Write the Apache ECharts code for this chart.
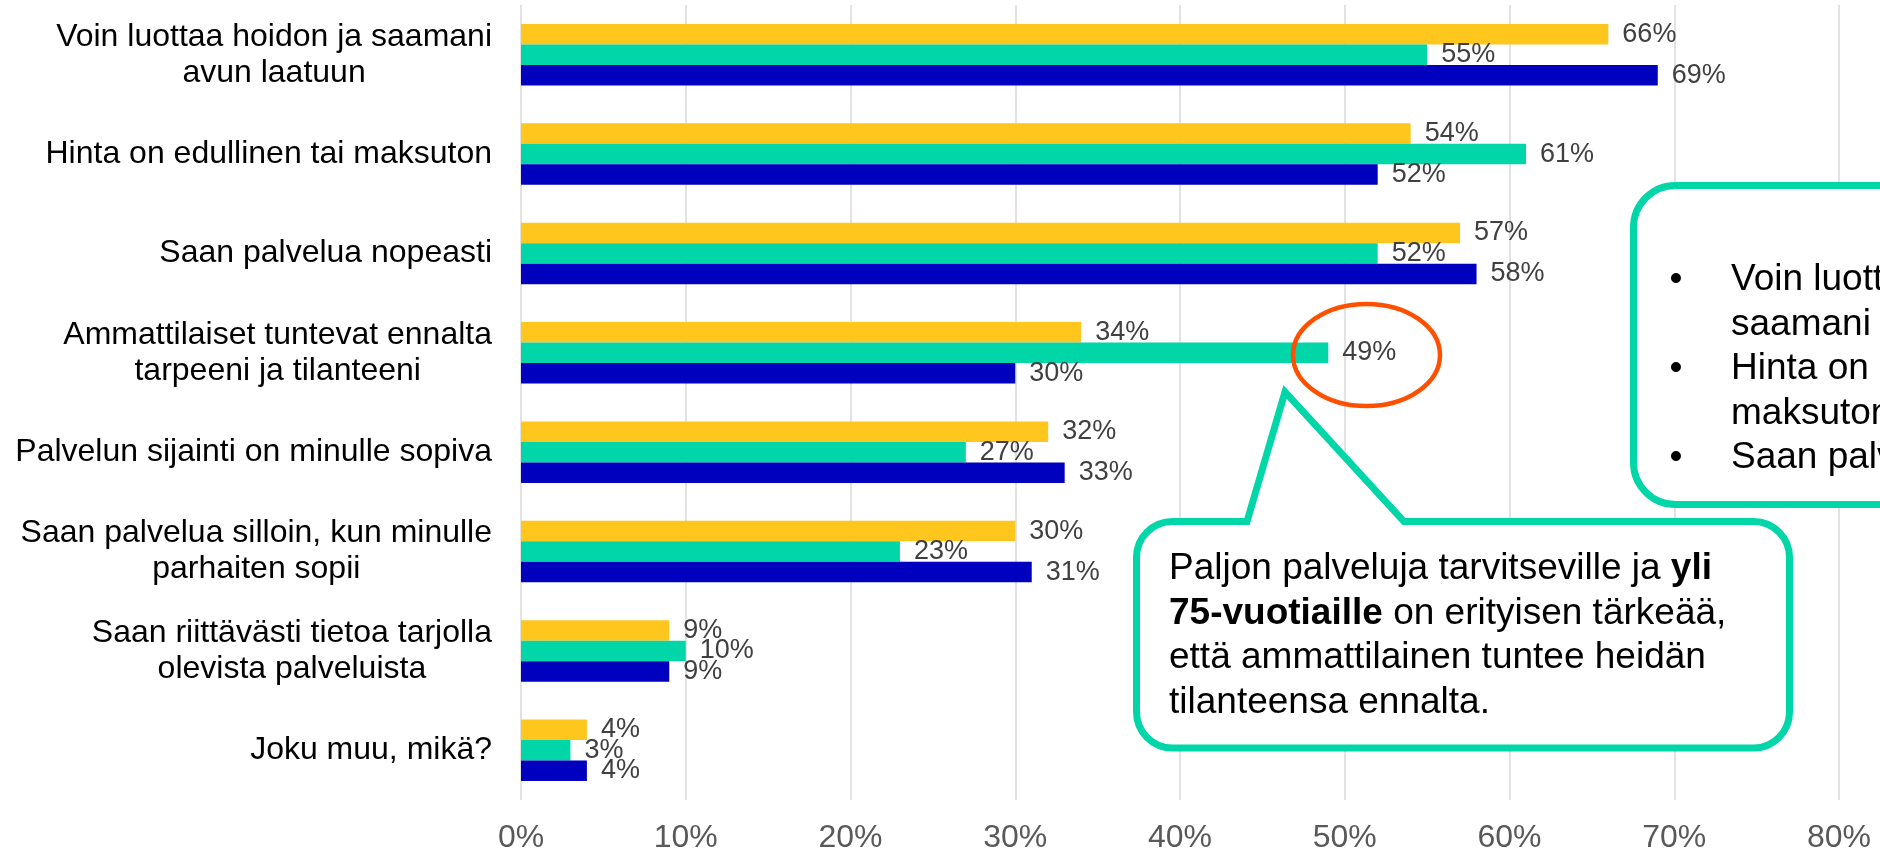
<!DOCTYPE html>
<html>
<head>
<meta charset="utf-8">
<script src="https://cdn.jsdelivr.net/npm/echarts@6/dist/echarts.min.js"></script>
<style>
  html, body { margin: 0; padding: 0; background: #fff; }
  #chart { width: 1880px; height: 850px; }
</style>
</head>
<body>
<div id="chart"></div>
<script>
const FONT = '"Liberation Sans", Arial, sans-serif'
const GREEN = '#00d6a8'

// data
const categories = [
  'Voin luottaa hoidon ja saamani\navun laatuun',
  'Hinta on edullinen tai maksuton',
  'Saan palvelua nopeasti',
  'Ammattilaiset tuntevat ennalta\ntarpeeni ja tilanteeni',
  'Palvelun sijainti on minulle sopiva',
  'Saan palvelua silloin, kun minulle\nparhaiten sopii',
  'Saan riittävästi tietoa tarjolla\nolevista palveluista',
  'Joku muu, mikä?'
]
const seriesNames = ['Ryhmä 1', 'Ryhmä 2', 'Ryhmä 3']
const yellowValues = [66, 54, 57, 34, 32, 30, 9, 4]
const greenValues = [55, 61, 52, 49, 27, 23, 10, 3]
const blueValues = [69, 52, 58, 30, 33, 31, 9, 4]
const axisMax = 80
const axisStep = 10

const seriesColors = ['#ffc61e', GREEN, '#0000bf']
const seriesValues = [yellowValues, greenValues, blueValues]

// speech-bubble outline (rounded box + pointer up to the 49% ring)
const calloutPath = 'M1172.5 521.5 L1247 521.5 L1285 392 L1404 521.5 L1753.5 521.5 ' +
  'A36 36 0 0 1 1789.5 557.5 L1789.5 712 A36 36 0 0 1 1753.5 748 ' +
  'L1172.5 748 A36 36 0 0 1 1136.5 712 L1136.5 557.5 A36 36 0 0 1 1172.5 521.5 Z'
echarts.graphic.registerShape('callout', echarts.graphic.extendPath(calloutPath, {}))

const chart = echarts.init(document.getElementById('chart'), null, { renderer: 'canvas' })

const bars = seriesValues.map((vals, i) => ({
  name: seriesNames[i],
  type: 'bar',
  data: vals,
  barWidth: 20.5,
  barGap: '0%',
  itemStyle: { color: seriesColors[i] },
  label: {
    show: true,
    position: 'right',
    distance: 14,
    formatter: '{c}%',
    color: '#404040',
    fontSize: 27,
    fontFamily: FONT
  },
  emphasis: { disabled: true },
  z: 2
}))

chart.setOption({
  animation: false,
  backgroundColor: '#fff',
  grid: {
    left: 521,
    right: 41,
    top: 5,
    bottom: 50,
    containLabel: false,
    outerBoundsMode: 'none'
  },
  xAxis: {
    type: 'value',
    min: 0,
    max: axisMax,
    interval: axisStep,
    axisLine: { show: false },
    axisTick: { show: false },
    splitLine: { show: true, lineStyle: { color: '#d9d9d9', width: 1.5 } },
    axisLabel: {
      formatter: '{value}%',
      color: '#595959',
      fontSize: 32,
      fontFamily: FONT,
      margin: 22
    }
  },
  yAxis: {
    type: 'category',
    inverse: true,
    data: categories,
    axisLine: { show: false },
    axisTick: { show: false },
    splitLine: { show: false },
    axisLabel: {
      margin: 29,
      interval: 0,
      formatter: v => v.split('\n').map(s => '{c|' + s + '}').join('\n'),
      rich: {
        c: { align: 'center', fontSize: 32, lineHeight: 36, fontFamily: FONT, color: '#000' }
      }
    }
  },
  series: bars,
  graphic: [
    // right info box (continues past the edge)
    {
      type: 'rect',
      z: 10,
      shape: { x: 1633.5, y: 185.5, width: 600, height: 319, r: 42 },
      style: { fill: '#fff', stroke: GREEN, lineWidth: 7 }
    },
    {
      type: 'text',
      z: 11,
      x: 1676,
      y: 258,
      style: {
        text: '•\n\n•\n\n•',
        font: '37px ' + FONT,
        lineHeight: 44.5,
        fill: '#000',
        align: 'center',
        verticalAlign: 'top'
      }
    },
    {
      type: 'text',
      z: 11,
      x: 1731,
      y: 258,
      style: {
        text: 'Voin luottaa hoidon ja\nsaamani avun laatuun\nHinta on edullinen tai\nmaksuton\nSaan palvelua nopeasti',
        font: '37px ' + FONT,
        lineHeight: 44.5,
        fill: '#000',
        align: 'left',
        verticalAlign: 'top'
      }
    },
    {
      type: 'callout',
      z: 10,
      style: { fill: '#fff', stroke: GREEN, lineWidth: 7, lineJoin: 'miter' }
    },
    {
      type: 'text',
      z: 11,
      x: 1169,
      y: 547,
      style: {
        text: 'Paljon palveluja tarvitseville ja {b|yli}\n{b|75-vuotiaille} on erityisen tärkeää,\nettä ammattilainen tuntee heidän\ntilanteensa ennalta.',
        fontSize: 37,
        fontFamily: FONT,
        lineHeight: 44.5,
        fill: '#000',
        align: 'left',
        verticalAlign: 'top',
        rich: {
          b: { fontSize: 37, fontFamily: FONT, fontWeight: 'bold', lineHeight: 44.5, fill: '#000' }
        }
      }
    },
    // highlight ring round the 49% value
    {
      type: 'ellipse',
      z: 12,
      shape: { cx: 1366.5, cy: 355, rx: 73.5, ry: 51 },
      style: { fill: 'none', stroke: '#ff5000', lineWidth: 4.5 }
    }
  ]
})

window.addEventListener('resize', () => chart.resize())
</script>
</body>
</html>
